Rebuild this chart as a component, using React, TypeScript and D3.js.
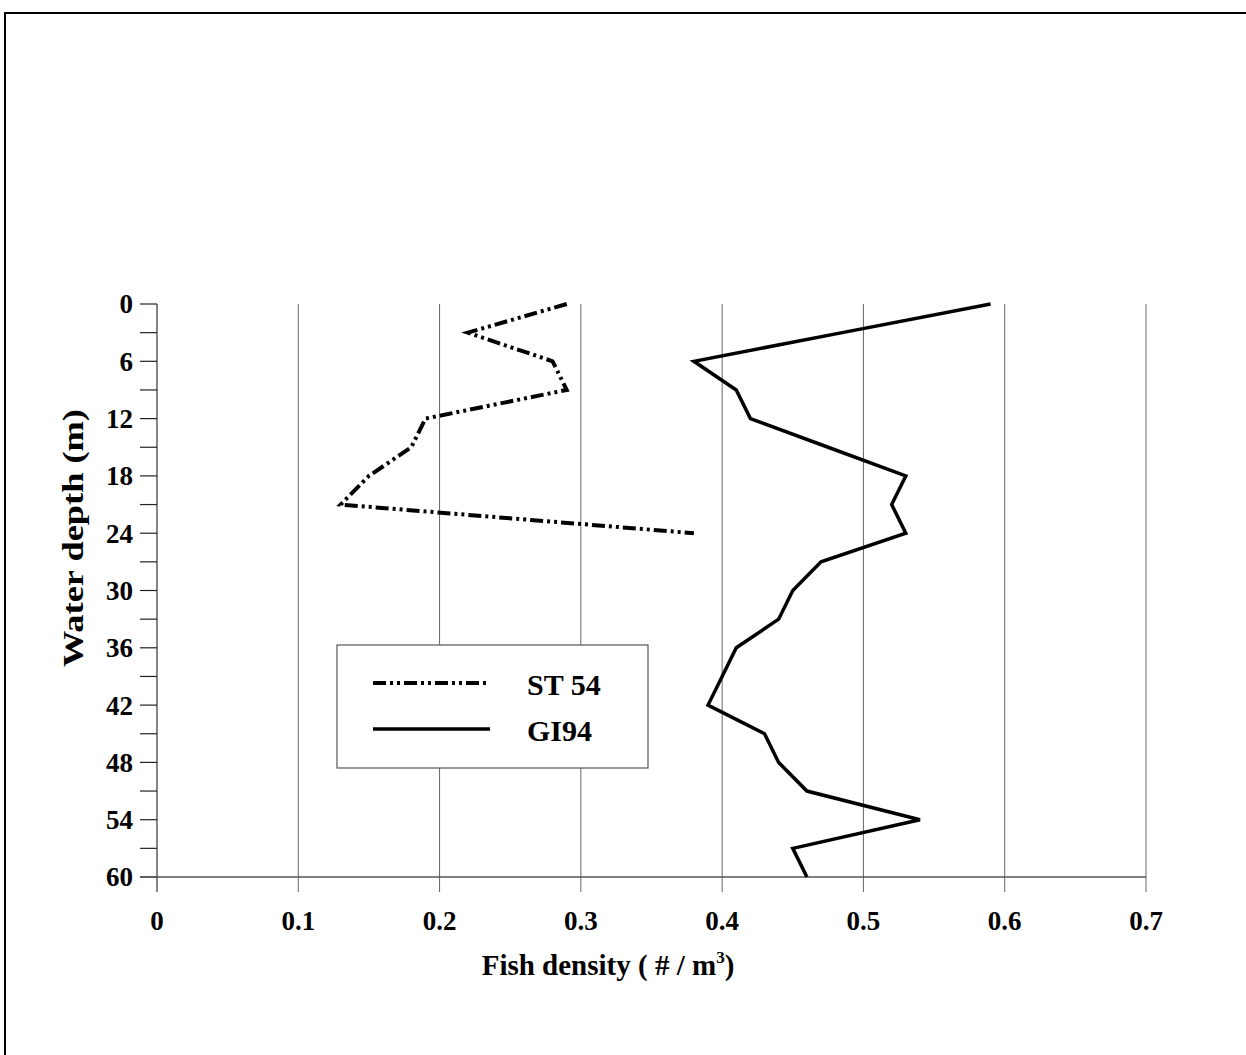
import React from "react";
import * as d3 from "d3";

const depths = [0, 3, 6, 9, 12, 15, 18, 21, 24, 27, 30, 33, 36, 39, 42, 45, 48, 51, 54, 57, 60];
const st54Depths = [0, 3, 6, 9, 12, 15, 18, 21, 24];
const st54Values = [0.29, 0.22, 0.28, 0.29, 0.19, 0.18, 0.15, 0.13, 0.38];
const gi94Values = [0.59, 0.485, 0.38, 0.41, 0.42, 0.475, 0.53, 0.52, 0.53, 0.47, 0.45, 0.44, 0.41, 0.40, 0.39, 0.43, 0.44, 0.46, 0.54, 0.45, 0.46];
const xTicks = [0, 0.1, 0.2, 0.3, 0.4, 0.5, 0.6, 0.7];
const yMajorTicks = [0, 6, 12, 18, 24, 30, 36, 42, 48, 54, 60];
const yMinorTicks = [3, 9, 15, 21, 27, 33, 39, 45, 51, 57];
const seriesNames = ["ST 54", "GI94"];

const FONT = "'Liberation Serif', 'Times New Roman', serif";

export default function App() {
  const W = 1246, H = 1055;
  const x = d3.scaleLinear().domain([0, 0.7]).range([157, 1146]);
  const y = d3.scaleLinear().domain([0, 60]).range([304, 877]);
  const line = d3.line<[number, number]>().x(d => x(d[0])).y(d => y(d[1]));
  const st = line(st54Depths.map((d, i) => [st54Values[i], d] as [number, number]));
  const gi = line(depths.map((d, i) => [gi94Values[i], d] as [number, number]));
  const dash = "13,4,3,4,3,4";
  return (
    <svg width={W} height={H} style={{ position: "absolute", left: 0, top: 0, background: "#fff" }}>
      <rect x={0} y={0} width={W} height={H} fill="#fff" />
      <rect x={5} y={13} width={W + 10} height={H + 10} fill="none" stroke="#000" strokeWidth={2} />
      {/* gridlines */}
      {xTicks.slice(1).map(t => (
        <line key={"g" + t} x1={x(t)} x2={x(t)} y1={y(0)} y2={y(60) + 15} stroke="#666" strokeWidth={1} />
      ))}
      {/* y axis */}
      <line x1={x(0)} x2={x(0)} y1={y(0)} y2={y(60) + 15} stroke="#333" strokeWidth={1.2} />
      {yMajorTicks.map(t => (
        <g key={"y" + t}>
          <line x1={x(0) - 17} x2={x(0)} y1={y(t)} y2={y(t)} stroke="#222" strokeWidth={1.2} />
          <text x={133} y={y(t)} dy="0.35em" textAnchor="end" fontFamily={FONT} fontWeight="bold" fontSize={27}>{t}</text>
        </g>
      ))}
      {yMinorTicks.map(t => (
        <line key={"m" + t} x1={x(0) - 17} x2={x(0)} y1={y(t)} y2={y(t)} stroke="#222" strokeWidth={1.2} />
      ))}
      {/* x axis */}
      <line x1={x(0) - 17} x2={x(0.7)} y1={y(60)} y2={y(60)} stroke="#555" strokeWidth={1.5} />
      {xTicks.map(t => (
        <text key={"x" + t} x={x(t)} y={921} dy="0.35em" textAnchor="middle" fontFamily={FONT} fontWeight="bold" fontSize={27}>{t}</text>
      ))}
      <text x={608} y={975} textAnchor="middle" fontFamily={FONT} fontWeight="bold" fontSize={29}>
        Fish density ( # / m<tspan dy={-12} fontSize={17}>3</tspan><tspan dy={12}>)</tspan>
      </text>
      <text transform={`translate(83,538) rotate(-90)`} textAnchor="middle" fontFamily={FONT} fontWeight="bold" fontSize={29} textLength={258} lengthAdjust="spacingAndGlyphs">Water depth (m)</text>
      {/* series */}
      <path d={st || ""} fill="none" stroke="#000" strokeWidth={4} strokeDasharray={dash} />
      <path d={gi || ""} fill="none" stroke="#000" strokeWidth={3.5} strokeLinejoin="miter" />
      {/* legend */}
      <rect x={337} y={645} width={311} height={123} fill="#fff" stroke="#555" strokeWidth={1.2} />
      <line x1={373} x2={490} y1={683} y2={683} stroke="#000" strokeWidth={4} strokeDasharray={dash} />
      <text x={527} y={684} dy="0.35em" fontFamily={FONT} fontWeight="bold" fontSize={30}>{seriesNames[0]}</text>
      <line x1={373} x2={490} y1={729} y2={729} stroke="#000" strokeWidth={3.5} />
      <text x={527} y={730} dy="0.35em" fontFamily={FONT} fontWeight="bold" fontSize={30}>{seriesNames[1]}</text>
    </svg>
  );
}
